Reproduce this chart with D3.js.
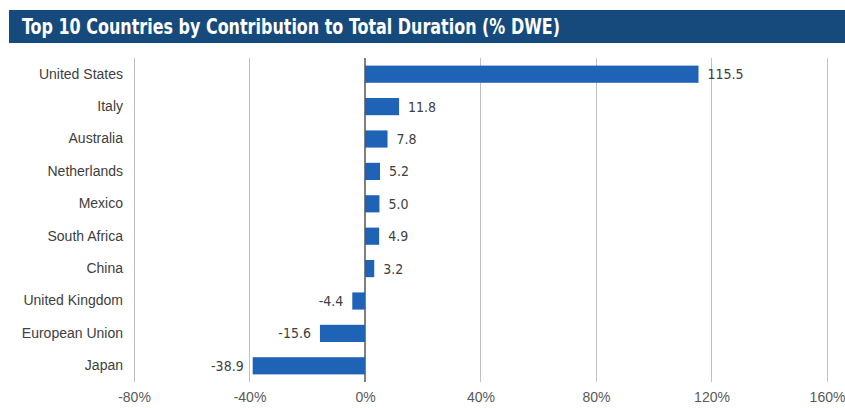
<!DOCTYPE html>
<html>
<head>
<meta charset="utf-8">
<script src="https://cdn.jsdelivr.net/npm/d3@7"></script>
<style>
  body { margin: 0; background: #fff; }
  svg { font-family: "DejaVu Sans Condensed", "Open Sans", sans-serif; }
</style>
</head>
<body>
<div id="chart"></div>
<script>
// chart data
var countries = ["United States", "Italy", "Australia", "Netherlands", "Mexico",
                 "South Africa", "China", "United Kingdom", "European Union", "Japan"];
var values = [115.5, 11.8, 7.8, 5.2, 5.0, 4.9, 3.2, -4.4, -15.6, -38.9];
var tickValues = [-80, -40, 0, 40, 80, 120, 160];

var width = 845;
var height = 408;

var svg = d3.select("#chart")
            .append("svg")
            .attr("width", width)
            .attr("height", height);

// title bar
svg.append("rect")
   .attr("x", 9)
   .attr("y", 10)
   .attr("width", width - 9)
   .attr("height", 33)
   .attr("fill", "#174a7c");

// condensed title: fit to the width of the original
svg.append("text")
   .attr("x", 22)
   .attr("y", 34)
   .attr("fill", "#fff")
   .attr("font-weight", "bold")
   .attr("font-size", "21px")
   .attr("textLength", 538)
   .attr("lengthAdjust", "spacingAndGlyphs")
   .text("Top 10 Countries by Contribution to Total Duration (% DWE)");

// scales
var x = d3.scaleLinear()
          .domain([-80, 160])
          .range([134, 827]);

var y = d3.scaleBand()
          .domain(countries)
          .range([58, 382])
          .paddingInner(0.47)
          .paddingOuter(0.235);

// gridlines
svg.selectAll("grid")
   .data(tickValues)
   .enter()
   .append("line")
   .attr("x1", function(d){ return x(d); })
   .attr("x2", function(d){ return x(d); })
   .attr("y1", 58)
   .attr("y2", 382)
   .attr("stroke", function(d){ return d === 0 ? "#7f7f7f" : "#bfbfbf"; })
   .attr("stroke-width", function(d){ return d === 0 ? 1.5 : 1; })
   .attr("shape-rendering", "crispEdges");

// x axis labels
var xAxis = d3.axisBottom(x)
              .tickValues(tickValues)
              .tickSize(0)
              .tickPadding(0)
              .tickFormat(function(d){ return d + "%"; });

var gx = svg.append("g")
            .attr("transform", "translate(0,392)")
            .call(xAxis);
gx.select(".domain").remove();
gx.selectAll("text")
  .attr("font-size", "14px")
  .attr("fill", "#595959")
  .attr("font-family", null);

// y axis labels
var yAxis = d3.axisLeft(y)
              .tickSize(0)
              .tickPadding(0);
var gy = svg.append("g")
            .attr("transform", "translate(123,0)")
            .call(yAxis);
gy.select(".domain").remove();
gy.selectAll("text")
  .attr("font-size", "14px")
  .attr("fill", "#404040")
  .attr("font-family", null);

// bars
svg.selectAll("bars")
   .data(values)
   .enter()
   .append("rect")
   .attr("x", function(d){ return x(Math.min(0, d)); })
   .attr("y", function(d, i){ return y(countries[i]); })
   .attr("width", function(d){ return Math.abs(x(d) - x(0)); })
   .attr("height", y.bandwidth())
   .attr("fill", "#1f63b6");

// value labels
svg.selectAll("vals")
   .data(values)
   .enter()
   .append("text")
   .attr("x", function(d){ return d >= 0 ? x(d) + 9 : x(d) - 9; })
   .attr("y", function(d, i){ return y(countries[i]) + y.bandwidth() / 2; })
   .attr("dy", "0.35em")
   .attr("text-anchor", function(d){ return d >= 0 ? "start" : "end"; })
   .attr("font-size", "14px")
   .attr("fill", "#404040")
   .text(function(d){ return d.toFixed(1); });
</script>
</body>
</html>
